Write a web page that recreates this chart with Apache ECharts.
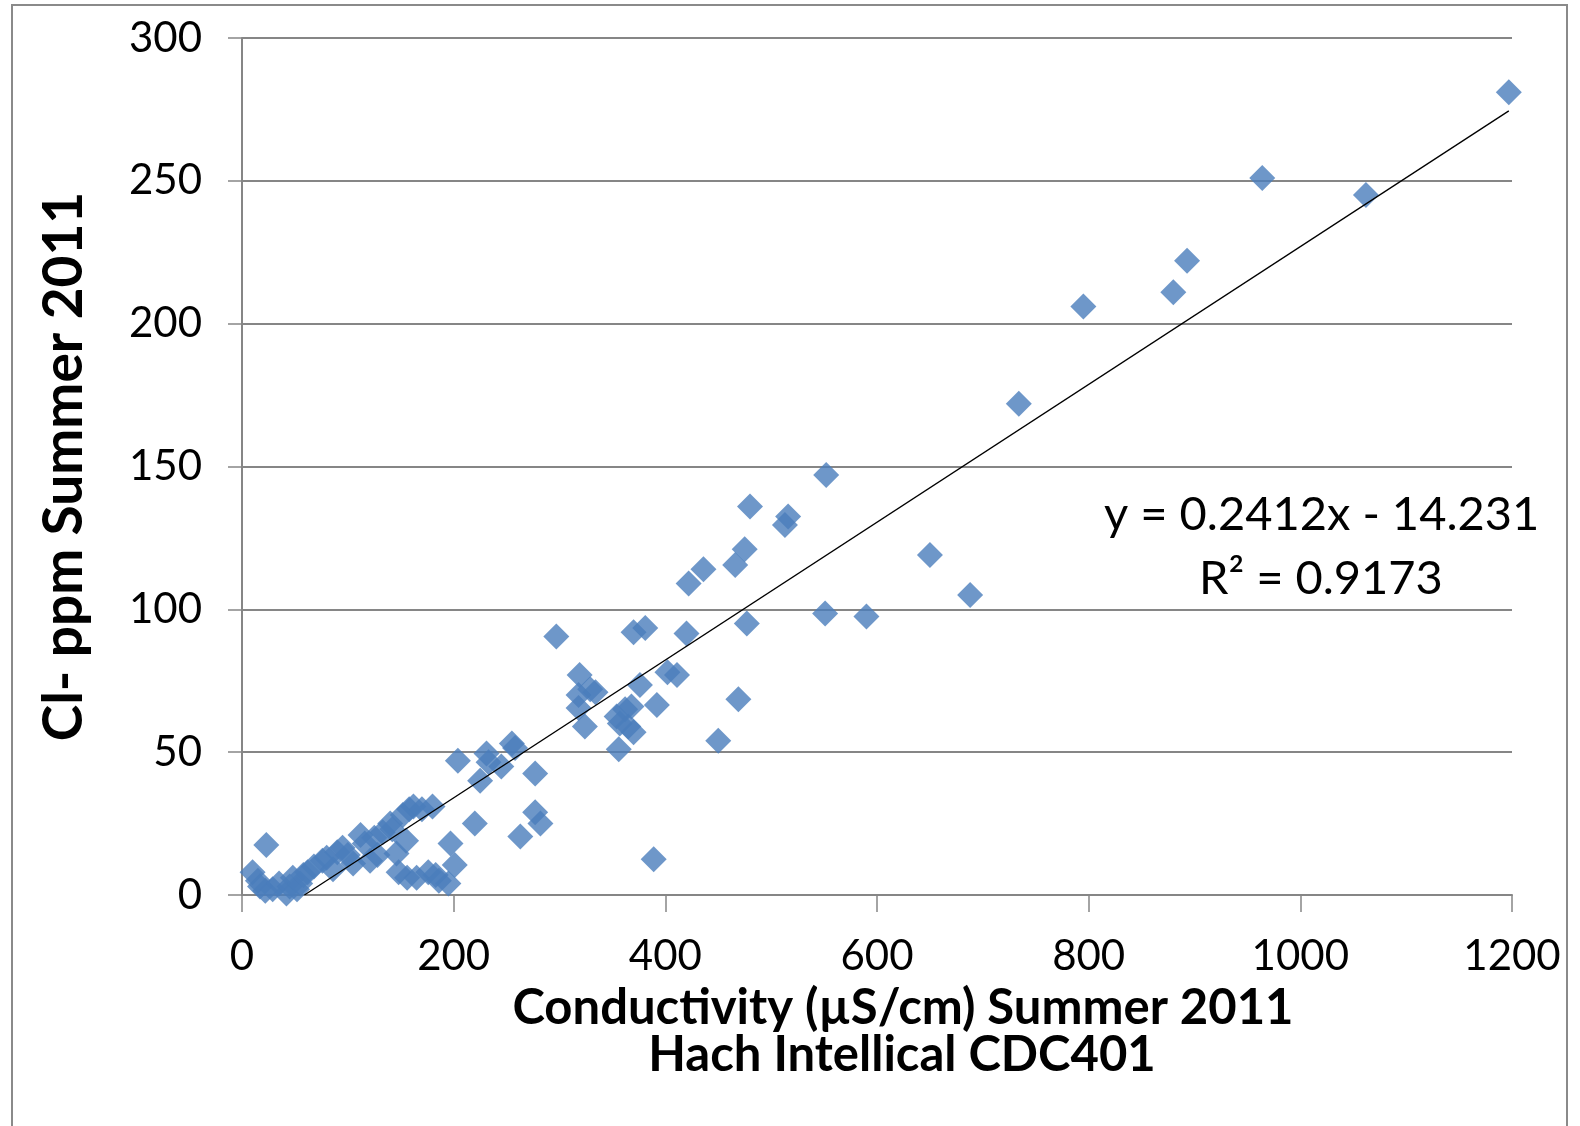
<!DOCTYPE html>
<html>
<head>
<meta charset="utf-8">
<script src="https://cdn.jsdelivr.net/npm/echarts@6/dist/echarts.min.js"></script>
<style>
html,body{margin:0;padding:0;background:#fff;}
#c{width:1580px;height:1126px;}
</style>
</head>
<body>
<div id="c"></div>
<script>
// Conductivity (µS/cm) readings
const conductivity = [10,15,23,17,22,29,35,42,45,48,52,55,58,62,68,76,80,86,90,95,100,105,112,116,121,125,128,133,140,142,146,148,152,155,156,158,162,165,170,176,180,183,186,195,197,201,204,
220,225,231,233,245,255,258,263,277,277,282,297,318,319,324,318,329,334,354,356,357,362,365,368,370,370,376,381,389,392,402,411,420,422,436,450,466,469,475,477,480,513,516,551,552,590,650,688,734,795,880,893,964,1062,1197];
// Cl- ppm readings
const chloride = [8,5,17.5,3,1.5,2,4,0.5,3,6,2,4,7,8,10,12,13,9,15,16.5,14,11,21,18,12,20,14,22,25,23,14.5,8,28,19,6,30,31,6,30,8,31,7,5,4,18,10.5,47,
25,40,49.5,46.5,45,53,51.5,20.5,42.5,29,25,90.5,70,77,59,65.5,72,71,62.5,51,60,65,59,66,57,92,73.5,93.5,12.5,66.5,78,77,91.5,109,114,54,115.5,68.5,121,95,136,129.5,132.5,98.5,147,97.5,119,105,172,206,211,222,251,245,281];
const xTicks = [0,200,400,600,800,1000,1200];
const yTicks = [0,50,100,150,200,250,300];
const xTitleLines = ['Conductivity (µS/cm) Summer 2011', 'Hach Intellical CDC401'];
const yTitle = 'Cl- ppm Summer 2011';
const trendSlope = 0.2412;
const trendIntercept = -14.231;
const equationText = 'y = 0.2412x - 14.231';
const r2Text = 'R² = 0.9173';

const points = conductivity.map((x, i) => [x, chloride[i]]);
const xMaxData = Math.max(...conductivity);
const xStart = -trendIntercept / trendSlope;
const trend = [[xStart, 0], [xMaxData, trendSlope * xMaxData + trendIntercept]];

const FONT = 'Lato, "Open Sans", sans-serif';
const chart = echarts.init(document.getElementById('c'), null, {renderer: 'canvas'});
chart.setOption({
  backgroundColor: '#ffffff',
  animation: false,
  grid: {left: 242, right: 68, top: 38, bottom: 231},
  xAxis: {
    type: 'value', min: xTicks[0], max: xTicks[xTicks.length - 1], interval: 200,
    axisLine: {show: true, lineStyle: {color: '#868686', width: 2}},
    axisTick: {show: true, length: 17, inside: false, lineStyle: {color: '#868686', width: 1.5}},
    axisLabel: {fontFamily: FONT, fontSize: 42, color: '#000', margin: 40, formatter: v => String(v)},
    splitLine: {show: false}
  },
  yAxis: {
    type: 'value', min: yTicks[0], max: yTicks[yTicks.length - 1], interval: 50,
    name: yTitle,
    nameLocation: 'middle', nameGap: 150, nameRotate: 90,
    nameTextStyle: {fontFamily: FONT, fontWeight: 'bold', fontSize: 55, color: '#000'},
    axisLine: {show: true, lineStyle: {color: '#868686', width: 2}},
    axisTick: {show: true, length: 14, inside: false, lineStyle: {color: '#868686', width: 1.5}},
    axisLabel: {fontFamily: FONT, fontSize: 42, color: '#000', margin: 40, formatter: v => String(v)},
    splitLine: {show: true, lineStyle: {color: '#868686', width: 2}}
  },
  graphic: [
    {type: 'rect', shape: {x: 12, y: 5, width: 1555, height: 1130}, style: {fill: 'none', stroke: '#8a8a8a', lineWidth: 2}, silent: true, z: -1},
    {type: 'text', x: 903, y: 1008, style: {text: xTitleLines[0], font: 'bold 49px ' + FONT, fill: '#000', verticalAlign: 'middle', align: 'center'}},
    {type: 'text', x: 902, y: 1055, style: {text: xTitleLines[1], font: 'bold 49px ' + FONT, fill: '#000', verticalAlign: 'middle', align: 'center'}},
    {type: 'text', x: 1104, y: 515, style: {text: equationText, font: '47px ' + FONT, fill: '#000', verticalAlign: 'middle', align: 'left'}},
    {type: 'text', x: 1199, y: 579, style: {text: r2Text, font: '47px ' + FONT, fill: '#000', verticalAlign: 'middle', align: 'left'}}
  ],
  series: [
    {
      type: 'scatter', data: points, symbol: 'diamond', symbolSize: 26,
      itemStyle: {color: '#4a7dbb'}, z: 3
    },
    {
      type: 'line', data: trend, symbol: 'none', showSymbol: false,
      lineStyle: {color: '#000', width: 1.3}, z: 4, silent: true
    }
  ]
});
</script>
</body>
</html>
